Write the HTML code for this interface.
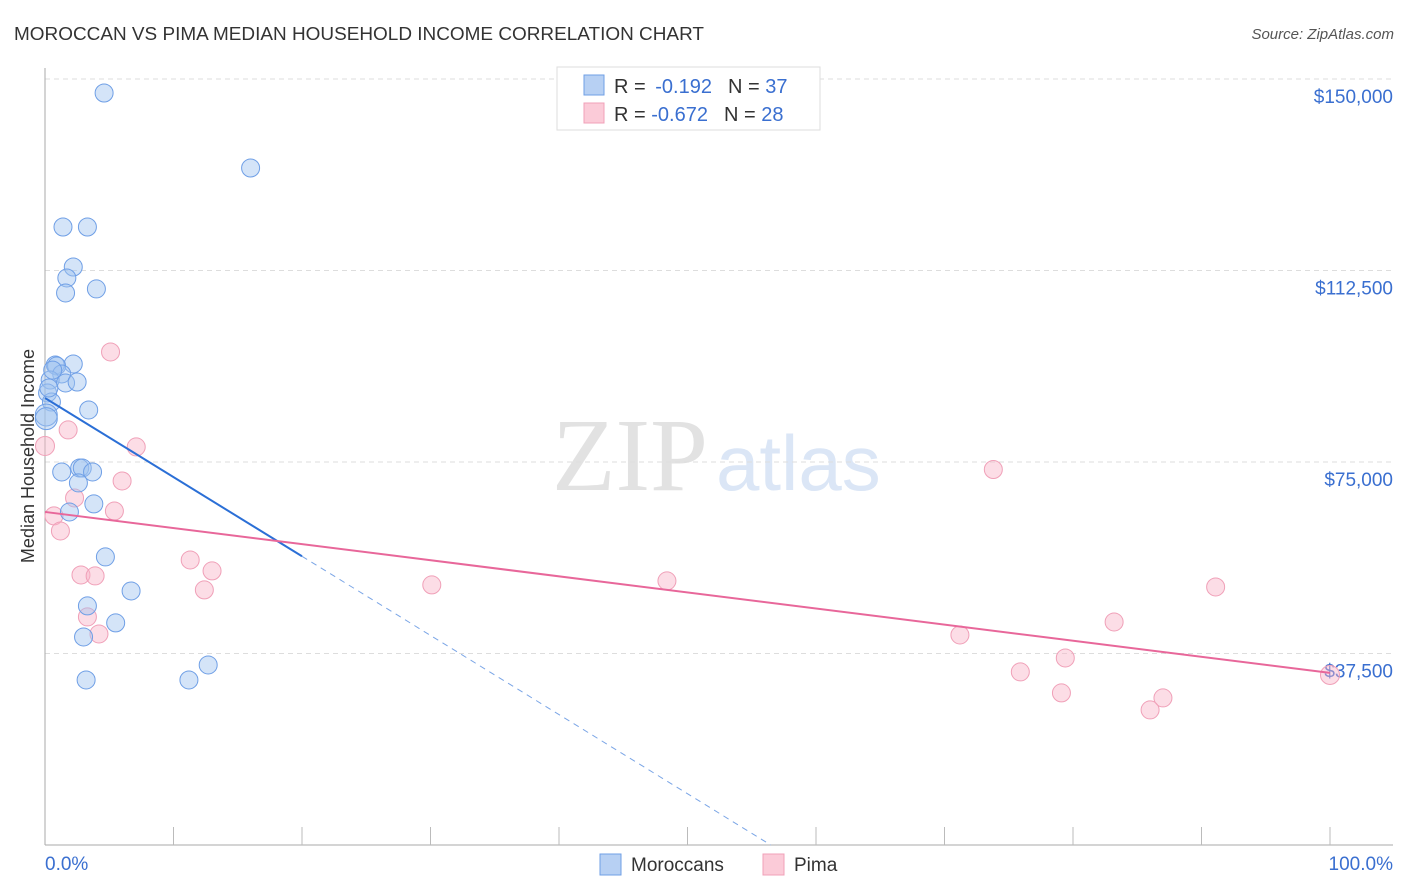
<!DOCTYPE html>
<html><head><meta charset="utf-8"><style>
body{margin:0;background:#fff;font-family:"Liberation Sans",sans-serif}
svg{display:block}
</style></head><body>
<svg id="c" width="1406" height="892" xmlns="http://www.w3.org/2000/svg">
<text x="14" y="40" font-size="18" fill="#333" textLength="690" lengthAdjust="spacingAndGlyphs">MOROCCAN VS PIMA MEDIAN HOUSEHOLD INCOME CORRELATION CHART</text>
<text x="1394" y="39" font-size="15" fill="#555" font-style="italic" text-anchor="end">Source: ZipAtlas.com</text>
<g>
<text x="552" y="490" font-family="Liberation Serif,serif" font-size="104" fill="#e2e2e2">ZIP</text>
<text x="716" y="490" font-size="78" fill="#dbe6f6">atlas</text>
</g>
<g id="grid"></g>
<g id="axes"></g>
<g id="marks"></g>
<text transform="translate(34,456) rotate(-90)" font-size="18" fill="#333" text-anchor="middle">Median Household Income</text>
<g>
<rect x="557" y="67" width="263" height="63" fill="#fff" stroke="#ddd"/>
<rect x="584" y="75" width="20" height="20" fill="#b7d0f3" stroke="#6f9fe6"/>
<rect x="584" y="103" width="20" height="20" fill="#fbcbd8" stroke="#f0a0b8"/>
<text x="614" y="93" font-size="20" fill="#333">R = <tspan fill="#3a6fd0" dx="4">-0.192</tspan><tspan dx="16" fill="#333">N = </tspan><tspan fill="#3a6fd0">37</tspan></text>
<text x="614" y="121" font-size="20" fill="#333">R = <tspan fill="#3a6fd0">-0.672</tspan><tspan dx="16" fill="#333">N = </tspan><tspan fill="#3a6fd0">28</tspan></text>
</g>
<g>
<rect x="600" y="854" width="21" height="21" fill="#b7d0f3" stroke="#6f9fe6"/>
<text x="631" y="871" font-size="19" fill="#333">Moroccans</text>
<rect x="763" y="854" width="21" height="21" fill="#fbcbd8" stroke="#f0a0b8"/>
<text x="794" y="871" font-size="19" fill="#333">Pima</text>
</g>
</svg>
<script>
const yTicks=[150000,112500,75000,37500];
const yTickLabels=["$150,000","$112,500","$75,000","$37,500"];
const xTickLabels=["0.0%","100.0%"];
const moroccanX=[4.6,16.0,1.4,3.3,2.2,1.7,1.6,4.0,0.8,2.2,0.9,1.3,0.4,1.6,2.5,0.2,0.5,3.4,0.1,0.1,1.3,2.7,2.9,3.7,2.6,3.8,1.9,4.7,6.7,3.3,5.5,3.0,3.2,11.2,12.7,0.3,0.6];
const moroccanY=[147260,132570,121020,121020,113190,111040,108100,108890,94000,94200,93810,92240,91060,90480,90670,88520,86750,85190,84210,83500,73050,73830,73830,73050,70900,66790,65220,56410,49750,46820,43490,40740,32320,32320,35260,89500,93000];
const pimaX=[5.1,1.8,0,7.1,6.0,2.3,5.4,0.7,1.2,11.3,13.0,2.8,3.9,12.4,3.3,4.2,30.1,48.4,73.8,91.1,83.2,71.2,79.4,75.9,79.1,87.0,86.0,100];
const pimaY=[96550,81280,78140,77950,71290,67960,65410,64440,61500,55820,53670,52880,52690,49950,44660,41330,50930,51710,73530,50530,43680,41130,36630,33890,29780,28800,26450,33300];
const blueLine=[87540,-1550];   // intercept, slope per %
const pinkLine=[65220,-315.2];
const NS="http://www.w3.org/2000/svg";
const X=p=>45+p*12.85, Y=v=>845-v*766/150000;
function mk(tag,attrs,parent){const e=document.createElementNS(NS,tag);for(const k in attrs)e.setAttribute(k,attrs[k]);document.getElementById(parent).appendChild(e);return e;}
yTicks.forEach((t,i)=>{
 const g=mk('line',{x1:45,x2:1393,y1:Y(t),y2:Y(t),stroke:'#ddd','stroke-dasharray':'5,4'},'grid');
 
 
 const l=mk('text',{x:1393,y:Y(t)+24,'font-size':19,fill:'#3a6fd0','text-anchor':'end'},'axes');
 l.textContent=yTickLabels[i];
 
 
});
mk('line',{x1:45,x2:45,y1:68,y2:845,stroke:'#aaa'},'axes');
mk('line',{x1:45,x2:1393,y1:845,y2:845,stroke:'#aaa'},'axes');
for(let i=1;i<=10;i++){mk('line',{x1:X(i*10),x2:X(i*10),y1:827,y2:845,stroke:'#bbb'},'axes');}
const xl0=mk('text',{x:45,y:870,'font-size':19,fill:'#3a6fd0'},'axes');xl0.textContent=xTickLabels[0];


const xl1=mk('text',{x:1393,y:870,'font-size':19,fill:'#3a6fd0','text-anchor':'end'},'axes');xl1.textContent=xTickLabels[1];


pimaX.forEach((x,i)=>{const c=mk('circle',{cx:X(x),cy:Y(pimaY[i]),r:(x===0||x===100)?9.5:9,fill:'rgba(248,180,200,0.45)',stroke:'#f0a0b8','stroke-width':1},'marks');
 
 });
moroccanX.forEach((x,i)=>{const c=mk('circle',{cx:X(x),cy:Y(moroccanY[i]),r:(i===18||i===19)?11:9,fill:'rgba(160,195,240,0.45)',stroke:'#6f9fe6','stroke-width':1},'marks');
 
 });
const bl=mk('line',{x1:X(0),y1:Y(blueLine[0]),x2:X(20),y2:Y(blueLine[0]+blueLine[1]*20),stroke:'#2b6fd6','stroke-width':2},'marks');


const xEnd=-blueLine[0]/blueLine[1];
const bd=mk('line',{x1:X(20),y1:Y(blueLine[0]+blueLine[1]*20),x2:X(xEnd),y2:Y(0),stroke:'#7aa5e6','stroke-width':1,'stroke-dasharray':'6,5'},'marks');


const pl=mk('line',{x1:X(0),y1:Y(pinkLine[0]),x2:X(100),y2:Y(pinkLine[0]+pinkLine[1]*100),stroke:'#e8679a','stroke-width':2},'marks');


</script>
</body></html>
